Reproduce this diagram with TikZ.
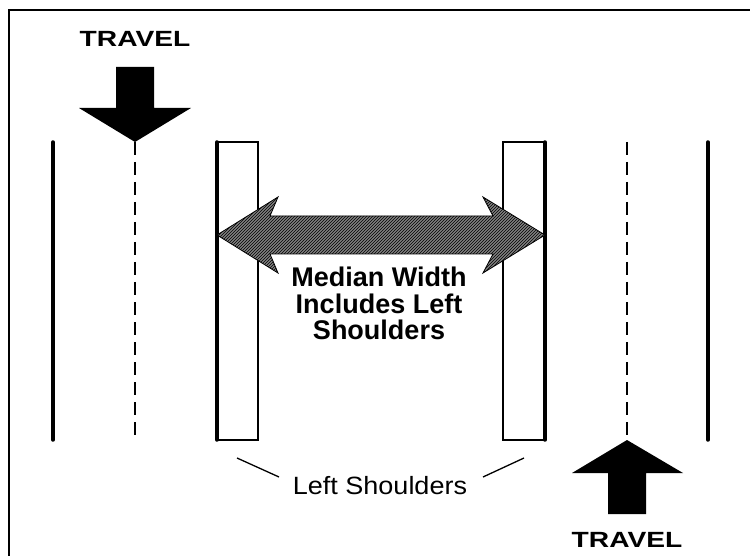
\documentclass[tikz,border=0pt]{standalone}
\usepackage{fontspec}
\setmainfont{Liberation Sans}
\usetikzlibrary{patterns}
\begin{document}
\begin{tikzpicture}[x=1pt,y=-1pt,
  edgeline/.style={line width=3.5pt,line cap=round},
  centerline/.style={line width=1.5pt,dash pattern=on 13pt off 7pt},
  shoulder/.style={draw,line width=1.5pt},
  bigarrow/.style={fill=black},
  leader/.style={line width=1.3pt},
  boldlabel/.style={font=\bfseries\fontsize{27}{27}\selectfont,anchor=base,inner sep=0pt},
  travellabel/.style={font=\bfseries\fontsize{22}{22}\selectfont,anchor=base,inner sep=0pt,xscale=1.28},
  plainlabel/.style={font=\fontsize{25}{25}\selectfont,anchor=base,inner sep=0pt,xscale=1.08}]
\useasboundingbox (0,0) rectangle (750,556);
% frame
\draw[line width=2pt] (9,560) -- (9,10) -- (760,10);
% lanes
\coordinate (e1t) at (53,142); \coordinate (e1b) at (53,440);
\coordinate (c1t) at (135,142); \coordinate (c1b) at (135,440);
\coordinate (m1t) at (217,142); \coordinate (m1b) at (217,440);
\coordinate (m2t) at (545,142); \coordinate (m2b) at (545,440);
\coordinate (c2t) at (627,142); \coordinate (c2b) at (627,440);
\coordinate (e2t) at (708,142); \coordinate (e2b) at (708,440);
\draw[shoulder] (217,142) rectangle (258,440);
\draw[shoulder] (503,142) rectangle (545,440);
\draw[edgeline] (e1t) -- (e1b);
\draw[edgeline] (m1t) -- (m1b);
\draw[edgeline] (m2t) -- (m2b);
\draw[edgeline] (e2t) -- (e2b);
\draw[centerline] (c1t) -- (c1b);
\draw[centerline] (c2t) -- (c2b);
% travel arrows
\fill[bigarrow] (116,67) -- (154,67) -- (154,108) -- (191,108) -- (c1t) -- (79,108) -- (116,108) -- cycle;
\fill[bigarrow] (608,514) -- (646,514) -- (646,473) -- (683,473) -- (c2b) -- (572,473) -- (608,473) -- cycle;
\node[travellabel] (tr1) at (135,47) {TRAVEL};
\node[travellabel] (tr2) at (627,547) {TRAVEL};
% median double arrow
\path[fill=black!50] (217,235) -- (278,197) -- (270,216) -- (493,216) -- (483,197) -- (545,235) -- (483,273) -- (493,254) -- (270,254) -- (278,273) -- cycle;
\path[pattern=north east lines] (217,235) -- (278,197) -- (270,216) -- (493,216) -- (483,197) -- (545,235) -- (483,273) -- (493,254) -- (270,254) -- (278,273) -- cycle;
\draw[line width=0.8pt] (217,235) -- (278,197) -- (270,216) -- (493,216) -- (483,197) -- (545,235) -- (483,273) -- (493,254) -- (270,254) -- (278,273) -- cycle;
\node[boldlabel] (t1) at (379,287) {Median Width};
\node[boldlabel] (t2) at (379,313) {Includes Left};
\node[boldlabel] (t3) at (379,339) {Shoulders};
% left shoulders label
\node[plainlabel] (ls) at (380,494) {Left Shoulders};
\coordinate (l1a) at (237,458); \coordinate (l1b) at (279,477);
\coordinate (l2a) at (524,458); \coordinate (l2b) at (483,477);
\draw[leader] (l1a) -- (l1b);
\draw[leader] (l2a) -- (l2b);
\end{tikzpicture}
\end{document}
